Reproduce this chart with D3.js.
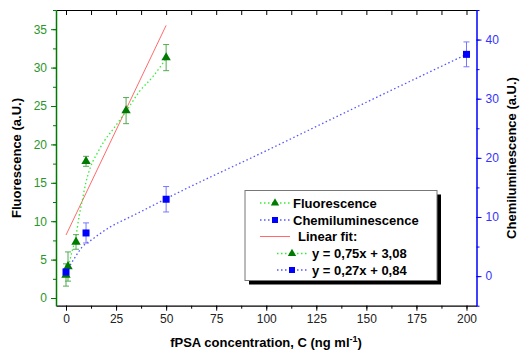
<!DOCTYPE html>
<html>
<head>
<meta charset="utf-8">
<script src="https://cdn.jsdelivr.net/npm/d3@7"></script>
<style>
    body { margin: 0; background: #fff; }
    svg { display: block; font-family: "Liberation Sans", Arial, sans-serif; }
    .legendText { font-weight: bold; font-size: 13px; fill: #000; }
    .axisTitle { font-weight: bold; font-size: 13px; fill: #000; }
</style>
</head>
<body>
<div class="container"></div>
<script>
//measured points, fluorescence (left axis)
var fluoX = [0, 1, 5, 10, 30, 50];
var fluoY = [3.0, 4.1, 7.3, 17.8, 24.4, 31.3];
var fluoErr = [1.45, 1.9, 0.95, 0.65, 1.7, 1.7];

//measured points, chemiluminescence (right axis)
var chemiX = [0, 10, 50, 200];
var chemiY = [0.7, 7.3, 13.0, 37.5];
var chemiErr = [0.5, 1.7, 2.15, 2.1];

//dotted guide curves
var fluoCurveX = [0.7, 3.2, 4.8, 6.5, 8.2, 9.8, 12.3, 15.7, 19, 23.3, 30, 36.7, 43.3, 50];
var fluoCurveY = [3.6, 6.25, 7.8, 10.6, 12.8, 14.9, 17.1, 18.9, 20.4, 21.9, 24.3, 26.9, 28.8, 31.2];
var chemiCurveX = [0, 4, 8, 13, 22, 32, 42, 50, 100, 150, 200];
var chemiCurveY = [0.7, 2.9, 4.9, 6.2, 8.3, 10.0, 11.7, 13.1, 21.2, 29.4, 37.5];

//red linear fit line (left axis)
var fitX = [0, 50];
var fitY = [8.2, 35.5];

//ticks
var xTicks = [0, 25, 50, 75, 100, 125, 150, 175, 200];
var leftTicks = [0, 5, 10, 15, 20, 25, 30, 35];
var rightTicks = [0, 10, 20, 30, 40];

var legendLabels = ["Fluorescence", "Chemiluminescence", "Linear fit:", "y = 0,75x + 3,08", "y = 0,27x + 0,84"];

(function () {

    var width = 523, height = 351;
    var left = 56, right = 476.5, top = 10, bottom = 305.7;

    var green = "#007a00", lightGreen = "#33ee33", greenErr = "#55aa55",
        blue = "#0000ff", lightBlue = "#5555ff", blueErr = "#7777ff",
        red = "#ff6b6b";

    var svg, x, yL, yR;

    function setChart() {
        svg = d3.select(".container")
            .append("svg")
            .attr("width", width)
            .attr("height", height);

        x = d3.scaleLinear().domain([-5, 205]).range([left, right]);
        yL = d3.scaleLinear().domain([-1, 37.5]).range([bottom, top]);
        yR = d3.scaleLinear().domain([-5, 45]).range([bottom, top]);

        drawAxes();
        drawSeries();
        drawLegend();
        drawTitles();
    }

    function minorTicks(step, lo, hi) {
        var out = [];
        for (var v = lo; v <= hi + 1e-9; v += step) out.push(v);
        return out;
    }

    function drawAxes() {
        //bottom axis
        var xMinor = minorTicks(12.5, 0, 200);
        svg.append("g")
            .attr("transform", "translate(0," + bottom + ")")
            .call(d3.axisBottom(x).tickValues(xMinor).tickSize(3).tickFormat(""))
            .call(function (g) { g.select(".domain").remove(); g.selectAll("line").attr("stroke", "#000"); });
        var xAxis = svg.append("g")
            .attr("transform", "translate(0," + bottom + ")")
            .call(d3.axisBottom(x).tickValues(xTicks).tickSize(5).tickPadding(4).tickSizeOuter(0));
        xAxis.selectAll("text").attr("font-size", "12px").attr("fill", "#222")
            .attr("font-family", "Liberation Sans, Arial, sans-serif");
        xAxis.select(".domain").attr("stroke", "#000").attr("stroke-width", 1.2);

        //top axis, ticks inside
        svg.append("g")
            .attr("transform", "translate(0," + top + ")")
            .call(d3.axisBottom(x).tickValues(xMinor).tickSize(5).tickFormat("").tickSizeOuter(0))
            .call(function (g) {
                g.select(".domain").attr("stroke", "#000").attr("stroke-width", 1.2);
                g.selectAll("line").attr("stroke", "#000");
            });

        //left axis (fluorescence)
        svg.append("g")
            .attr("transform", "translate(" + left + ",0)")
            .call(d3.axisLeft(yL).tickValues(minorTicks(2.5, 0, 37.5)).tickSize(3).tickFormat(""))
            .call(function (g) { g.select(".domain").remove(); g.selectAll("line").attr("stroke", green); });
        var lAxis = svg.append("g")
            .attr("transform", "translate(" + left + ",0)")
            .call(d3.axisLeft(yL).tickValues(leftTicks).tickSize(5).tickPadding(4).tickSizeOuter(0));
        lAxis.select(".domain").attr("stroke", green).attr("stroke-width", 1.5);
        lAxis.selectAll("line").attr("stroke", green);
        lAxis.selectAll("text").attr("font-size", "12px").attr("fill", "#2a962a")
            .attr("font-family", "Liberation Sans, Arial, sans-serif");

        //right axis (chemiluminescence)
        svg.append("g")
            .attr("transform", "translate(" + right + ",0)")
            .call(d3.axisRight(yR).tickValues(minorTicks(5, -5, 45)).tickSize(3).tickFormat(""))
            .call(function (g) { g.select(".domain").remove(); g.selectAll("line").attr("stroke", blue); });
        var rAxis = svg.append("g")
            .attr("transform", "translate(" + right + ",0)")
            .call(d3.axisRight(yR).tickValues(rightTicks).tickSize(5).tickPadding(4).tickSizeOuter(0));
        rAxis.select(".domain").attr("stroke", blue).attr("stroke-width", 1.5);
        rAxis.selectAll("line").attr("stroke", blue);
        rAxis.selectAll("text").attr("font-size", "12px").attr("fill", "#3333ff")
            .attr("font-family", "Liberation Sans, Arial, sans-serif");
    }

    function drawErrors(xs, ys, errs, scale, color) {
        var g = svg.append("g").attr("stroke", color).attr("stroke-width", 1).attr("fill", "none");
        xs.forEach(function (v, i) {
            var cx = x(v), y1 = scale(ys[i] + errs[i]), y2 = scale(ys[i] - errs[i]);
            g.append("line").attr("x1", cx).attr("x2", cx).attr("y1", y1).attr("y2", y2);
            g.append("line").attr("x1", cx - 3).attr("x2", cx + 3).attr("y1", y1).attr("y2", y1);
            g.append("line").attr("x1", cx - 3).attr("x2", cx + 3).attr("y1", y2).attr("y2", y2);
        });
    }

    function drawSeries() {
        var fluoLine = d3.line()
            .x(function (d) { return x(d[0]); })
            .y(function (d) { return yL(d[1]); })
            .curve(d3.curveMonotoneX);
        var chemiLine = d3.line()
            .x(function (d) { return x(d[0]); })
            .y(function (d) { return yR(d[1]); })
            .curve(d3.curveMonotoneX);

        //red fit line
        svg.append("path")
            .datum(d3.zip(fitX, fitY))
            .attr("d", d3.line().x(function (d) { return x(d[0]); }).y(function (d) { return yL(d[1]); }))
            .attr("fill", "none")
            .attr("stroke", red)
            .attr("stroke-width", 1);

        //dotted curves
        svg.append("path")
            .datum(d3.zip(fluoCurveX, fluoCurveY))
            .attr("d", fluoLine)
            .attr("fill", "none")
            .attr("stroke", lightGreen)
            .attr("stroke-width", 1.3)
            .attr("stroke-dasharray", "1.5,2.5");
        svg.append("path")
            .datum(d3.zip(chemiCurveX, chemiCurveY))
            .attr("d", chemiLine)
            .attr("fill", "none")
            .attr("stroke", lightBlue)
            .attr("stroke-width", 1.3)
            .attr("stroke-dasharray", "1.5,2.5");

        drawErrors(fluoX, fluoY, fluoErr, yL, greenErr);
        drawErrors(chemiX, chemiY, chemiErr, yR, blueErr);

        //markers
        svg.selectAll(".tri")
            .data(d3.zip(fluoX, fluoY))
            .enter()
            .append("path")
            .attr("class", "tri")
            .attr("d", d3.symbol().type(d3.symbolTriangle).size(38))
            .attr("transform", function (d) { return "translate(" + x(d[0]) + "," + yL(d[1]) + ")"; })
            .attr("fill", green);
        svg.selectAll(".sq")
            .data(d3.zip(chemiX, chemiY))
            .enter()
            .append("path")
            .attr("class", "sq")
            .attr("d", d3.symbol().type(d3.symbolSquare).size(49))
            .attr("transform", function (d) { return "translate(" + x(d[0]) + "," + yR(d[1]) + ")"; })
            .attr("fill", blue);
    }

    function drawLegend() {
        var bx = 245, by = 190.5, bw = 192, bh = 90;
        //shadow
        svg.append("rect")
            .attr("x", bx + 4).attr("y", by + 4)
            .attr("width", bw).attr("height", bh)
            .attr("fill", "#000");
        svg.append("rect")
            .attr("x", bx).attr("y", by)
            .attr("width", bw).attr("height", bh)
            .attr("fill", "#fff")
            .attr("stroke", "#777")
            .attr("stroke-width", 1);

        var rows = [
            { y: 203, x1: 260, x2: 290, tx: 293, color: lightGreen, mark: "tri", dash: true },
            { y: 220, x1: 260, x2: 290, tx: 293, color: lightBlue, mark: "sq", dash: true },
            { y: 236.5, x1: 260, x2: 290, tx: 298, color: red, mark: null, dash: false },
            { y: 253.5, x1: 277, x2: 307, tx: 312, color: lightGreen, mark: "tri", dash: true },
            { y: 270, x1: 277, x2: 307, tx: 312, color: lightBlue, mark: "sq", dash: true }
        ];
        rows.forEach(function (r, i) {
            svg.append("line")
                .attr("x1", r.x1).attr("x2", r.x2)
                .attr("y1", r.y).attr("y2", r.y)
                .attr("stroke", r.color)
                .attr("stroke-width", r.dash ? 1.3 : 1)
                .attr("stroke-dasharray", r.dash ? "1.5,2.5" : null);
            if (r.mark) {
                svg.append("path")
                    .attr("d", d3.symbol().type(r.mark === "tri" ? d3.symbolTriangle : d3.symbolSquare)
                        .size(r.mark === "tri" ? 30 : 36))
                    .attr("transform", "translate(" + (r.x1 + r.x2) / 2 + "," + r.y + ")")
                    .attr("fill", r.mark === "tri" ? green : blue);
            }
            svg.append("text")
                .attr("class", "legendText")
                .attr("x", r.tx)
                .attr("y", r.y)
                .attr("dy", "0.36em")
                .text(legendLabels[i]);
        });
    }

    function drawTitles() {
        svg.append("text")
            .attr("class", "axisTitle")
            .attr("transform", "translate(21," + 158 + ") rotate(-90)")
            .attr("text-anchor", "middle")
            .text("Fluorescence (a.U.)");

        svg.append("text")
            .attr("class", "axisTitle")
            .attr("transform", "translate(516," + 158 + ") rotate(-90)")
            .attr("text-anchor", "middle")
            .text("Chemiluminescence (a.U.)");

        var t = svg.append("text")
            .attr("class", "axisTitle")
            .attr("x", 266)
            .attr("y", 347)
            .attr("text-anchor", "middle");
        t.append("tspan").text("fPSA concentration, C (ng ml");
        t.append("tspan").attr("dy", "-5").attr("font-size", "9px").text("-1");
        t.append("tspan").attr("dy", "5").text(")");
    }

    window.onload = setChart;

})();
</script>
</body>
</html>
